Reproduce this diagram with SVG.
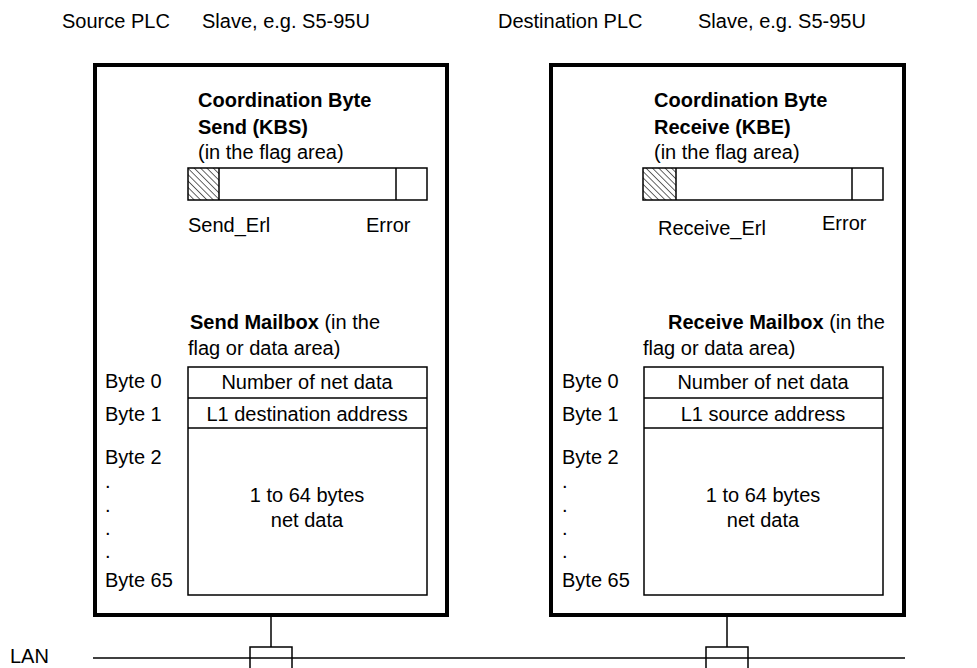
<svg xmlns="http://www.w3.org/2000/svg" width="977" height="668" viewBox="0 0 977 668">
<defs>
<style>
text{font-family:"Liberation Sans",Arial,sans-serif;font-size:20px;fill:#000}
.b{font-weight:bold}
.mid{text-anchor:middle}
.plc{fill:#fff;stroke:#000;stroke-width:4}
.thin{fill:none;stroke:#000;stroke-width:1.5}
.line{stroke:#000;stroke-width:1.5;fill:none}
</style>
<pattern id="hatch" patternUnits="userSpaceOnUse" width="4.5" height="4.5" patternTransform="rotate(-45)">
<line x1="0" y1="0" x2="0" y2="4.5" stroke="#000" stroke-width="1.2"/>
</pattern>
</defs>
<rect width="977" height="668" fill="#fff"/>
<g id="titles">
<text x="62" y="28">Source PLC</text>
<text x="202" y="28">Slave, e.g. S5-95U</text>
<text x="498" y="28">Destination PLC</text>
<text x="698" y="28">Slave, e.g. S5-95U</text>
</g>
<g id="source-plc">
<rect class="plc" x="95" y="65" width="352" height="550"/>
<text class="b" x="198" y="107">Coordination Byte</text>
<text class="b" x="198" y="134">Send (KBS)</text>
<text x="198" y="159">(in the flag area)</text>
<rect x="188" y="168" width="31" height="32" fill="url(#hatch)"/>
<rect class="thin" x="188" y="168" width="239" height="32"/>
<line class="line" x1="219" y1="168" x2="219" y2="200"/>
<line class="line" x1="396" y1="168" x2="396" y2="200"/>
<text x="188" y="232">Send_Erl</text>
<text x="366" y="232">Error</text>
<text x="190" y="329"><tspan class="b">Send Mailbox</tspan> (in the</text>
<text x="188" y="355">flag or data area)</text>
<rect class="thin" x="188" y="367" width="239" height="228"/>
<line class="line" x1="188" y1="398" x2="427" y2="398"/>
<line class="line" x1="188" y1="428" x2="427" y2="428"/>
<text class="mid" x="307" y="389">Number of net data</text>
<text class="mid" x="307" y="421">L1 destination address</text>
<text class="mid" x="307" y="502">1 to 64 bytes</text>
<text class="mid" x="307" y="527">net data</text>
<text x="105" y="388">Byte 0</text>
<text x="105" y="421">Byte 1</text>
<text x="105" y="464">Byte 2</text>
<text x="105" y="488">.</text>
<text x="105" y="512">.</text>
<text x="105" y="535">.</text>
<text x="105" y="558">.</text>
<text x="105" y="587">Byte 65</text>
</g>
<g id="destination-plc">
<rect class="plc" x="551" y="65" width="353" height="550"/>
<text class="b" x="654" y="107">Coordination Byte</text>
<text class="b" x="654" y="134">Receive (KBE)</text>
<text x="654" y="159">(in the flag area)</text>
<rect x="643" y="168" width="33" height="32" fill="url(#hatch)"/>
<rect class="thin" x="643" y="168" width="240" height="32"/>
<line class="line" x1="676" y1="168" x2="676" y2="200"/>
<line class="line" x1="852" y1="168" x2="852" y2="200"/>
<text x="658" y="235">Receive_Erl</text>
<text x="822" y="230">Error</text>
<text x="668" y="329"><tspan class="b">Receive Mailbox</tspan> (in the</text>
<text x="643" y="355">flag or data area)</text>
<rect class="thin" x="644" y="367" width="239" height="228"/>
<line class="line" x1="644" y1="398" x2="883" y2="398"/>
<line class="line" x1="644" y1="428" x2="883" y2="428"/>
<text class="mid" x="763" y="389">Number of net data</text>
<text class="mid" x="763" y="421">L1 source address</text>
<text class="mid" x="763" y="502">1 to 64 bytes</text>
<text class="mid" x="763" y="527">net data</text>
<text x="562" y="388">Byte 0</text>
<text x="562" y="421">Byte 1</text>
<text x="562" y="464">Byte 2</text>
<text x="562" y="488">.</text>
<text x="562" y="512">.</text>
<text x="562" y="535">.</text>
<text x="562" y="558">.</text>
<text x="562" y="587">Byte 65</text>
</g>
<g id="lan">
<text x="10" y="663">LAN</text>
</g>
<g id="connectors">
<line class="line" x1="93" y1="658" x2="905" y2="658"/>
<line class="line" x1="271" y1="615" x2="271" y2="647"/>
<line class="line" x1="727" y1="615" x2="727" y2="647"/>
<rect class="thin" x="250" y="647" width="42" height="24" fill="#fff"/>
<rect class="thin" x="706" y="647" width="42" height="24" fill="#fff"/>
</g>
</svg>
